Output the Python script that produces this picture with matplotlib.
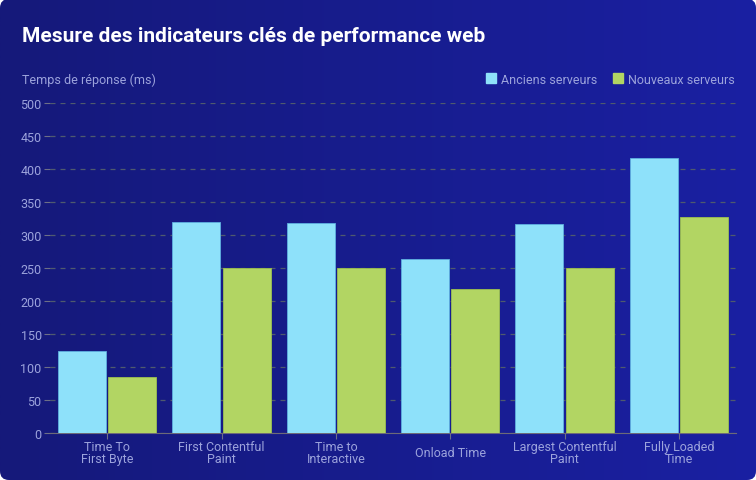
import numpy as np
import matplotlib.pyplot as plt
from matplotlib.patches import FancyBboxPatch, Rectangle

plt.rcParams['font.family'] = ['Roboto', 'DejaVu Sans']

categories = ['Time To\nFirst Byte', 'First Contentful\nPaint', 'Time to\nInteractive',
              'Onload Time', 'Largest Contentful\nPaint', 'Fully Loaded\nTime']
anciens = [124, 319, 318, 263, 316, 416]
nouveaux = [85, 250, 250, 218, 250, 327]
yticks = [0, 50, 100, 150, 200, 250, 300, 350, 400, 450, 500]

col_anc = '#8ee1fa'
col_nouv = '#b2d563'
txt_col = '#9ca3dc'

W, H = 756, 481
fig = plt.figure(figsize=(W / 100, H / 100), dpi=100, facecolor='white')

# fond dégradé arrondi
bg = fig.add_axes([0, 0, 1, 1])
bg.set_xlim(0, W)
bg.set_ylim(0, H)
bg.axis('off')
grad = np.linspace(0, 1, 256).reshape(1, -1)
c1 = np.array([0x15, 0x19, 0x7a]) / 255
c2 = np.array([0x1a, 0x20, 0xa2]) / 255
img = c1[None, None, :] * (1 - grad[..., None]) + c2[None, None, :] * grad[..., None]
im = bg.imshow(img, extent=[0, W, 0, H], aspect='auto', zorder=0)
box = FancyBboxPatch((0, 0), W, H, boxstyle='round,pad=0,rounding_size=9',
                     transform=bg.transData, facecolor='none', edgecolor='none')
bg.add_patch(box)
im.set_clip_path(box)

fig.text(22 / W, 1 - 37 / H, 'Mesure des indicateurs clés de performance web',
         color='white', fontsize=15, fontweight='bold', va='center', ha='left')
fig.text(22 / W, 1 - 80 / H, 'Temps de réponse (ms)', color=txt_col,
         fontsize=9, va='center', ha='left')

ax = fig.add_axes([50 / W, 1 - 434 / H, 686 / W, 330 / H])
ax.patch.set_alpha(0)
x = np.arange(len(categories))
bw = 0.42
ax.bar(x - 0.22, anciens, bw, color=col_anc, edgecolor='#5fb0e0', linewidth=0.6,
       zorder=3, label='Anciens serveurs')
ax.bar(x + 0.22, nouveaux, bw, color=col_nouv, edgecolor='#9cc050', linewidth=0.6,
       zorder=3, label='Nouveaux serveurs')
ax.set_xlim(-0.5, len(categories) - 0.5)
ax.set_ylim(0, 500)
ax.set_yticks(yticks)
ax.set_xticks(x)
ax.set_xticklabels(categories, linespacing=0.95, va='center')
ax.tick_params(axis='y', colors='#6d6f86', labelcolor=txt_col, labelsize=9,
               length=4, pad=2)
ax.tick_params(axis='x', colors='#6d6f86', labelcolor=txt_col, labelsize=9,
               length=4, pad=10)
ax.grid(axis='y', color='#4f5a6e', linestyle=(0, (4, 4)), linewidth=0.9, zorder=1)
for s in ['top', 'right', 'left']:
    ax.spines[s].set_visible(False)
ax.spines['bottom'].set_color('#6d6a78')

leg = fig.legend(handles=[Rectangle((0, 0), 1, 1, color=col_anc),
                          Rectangle((0, 0), 1, 1, color=col_nouv)],
                 labels=['Anciens serveurs', 'Nouveaux serveurs'],
                 loc='center right', bbox_to_anchor=(746 / W, 1 - 80 / H),
                 ncol=2, frameon=False, fontsize=9, handlelength=0.8,
                 handleheight=0.8, handletextpad=0.4, columnspacing=1.25)
for t in leg.get_texts():
    t.set_color(txt_col)

fig.savefig('out.png', dpi=100, facecolor='white')
